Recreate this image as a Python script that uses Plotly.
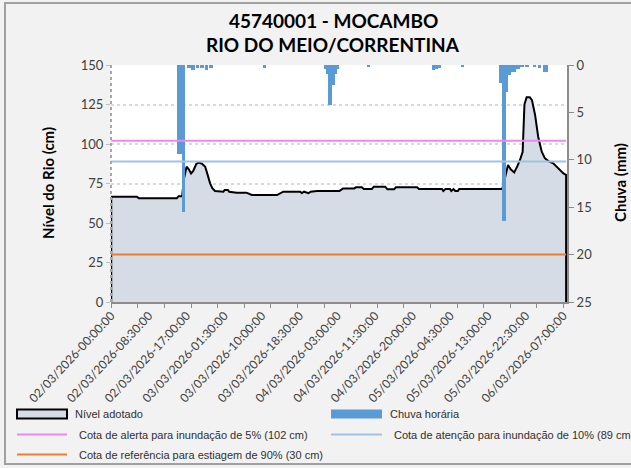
import plotly.graph_objects as go

# ---------------- data ----------------
title_lines = ["45740001 - MOCAMBO", "RIO DO MEIO/CORRENTINA"]
axis_titles = ["Nível do Rio (cm)", "Chuva (mm)"]

# hours since 02/03/2026 00:00 (category positions) and adopted river level (cm)
level_hours = [0, 5.8, 6.2, 14.8, 15.2, 16.0, 16.4, 17.0, 17.5, 18.0, 18.5, 19.2, 19.8, 20.5,
               21.2, 21.8, 22.3, 22.8, 23.4, 25.3, 25.6, 26.3, 26.6, 28.3, 30.5, 31.7, 37.4,
               38.8, 42.6, 43.0, 43.5, 44.5, 45.0, 46.4, 51.5, 52.3, 54.8, 55.2, 56.5, 57.0,
               58.8, 59.2, 61.8, 62.3, 63.8, 64.2, 69.0, 69.4, 74.6, 74.9, 75.4, 76.4, 76.7,
               77.2, 77.6, 78.2, 78.5, 88.2, 88.9, 89.5, 90.1, 90.9, 91.6, 92.2, 92.8, 93.2,
               93.7, 94.4, 94.9, 95.6, 96.3, 97.1, 97.8, 98.6, 99.7, 100.5, 101.2, 102.0, 102.6]
level_cm = [66.6, 66.6, 65.6, 65.6, 67.0, 67.0, 78.0, 85.6, 84.0, 81.4, 83.0, 87.5, 88.2, 87.5,
            85.6, 80.0, 75.1, 72.0, 70.3, 69.8, 70.9, 70.9, 69.8, 69.2, 69.2, 67.7, 67.7,
            69.8, 69.8, 68.9, 69.8, 68.9, 69.8, 70.3, 70.3, 71.9, 71.9, 72.6, 72.6, 71.5,
            71.5, 73.0, 73.0, 71.3, 71.3, 72.6, 72.6, 71.5, 71.5, 70.3, 71.5, 71.5, 70.3,
            71.5, 70.3, 70.3, 71.5, 71.5, 80.0, 86.7, 84.0, 82.0, 86.0, 89.9, 95.1, 125.0,
            129.6, 129.6, 127.8, 118.4, 104.6, 95.1, 91.0, 89.2, 87.8, 85.5, 83.5, 81.4, 80.5]

# hourly rain (mm)
rain_hours = [15.2, 15.7, 16.3, 17.5, 18.5, 19.5, 20.5, 21.5, 22.5, 34.6, 48.3, 48.9, 49.4, 50.0,
              50.5, 50.9, 58.0, 72.7, 73.4, 74.0, 79.2, 87.9, 88.55, 89.15, 89.7, 90.3, 90.8,
              91.4, 91.9, 92.6, 93.8, 95.5, 96.6, 97.7, 98.2]
rain_mm = [9.4, 9.4, 15.5, 0.3, 0.5, 0.3, 0.3, 0.5, 0.3, 0.3, 0.45, 1.0, 4.2, 2.1,
           1.0, 0.45, 0.25, 0.5, 0.4, 0.3, 0.25, 1.9, 16.5, 2.8, 1.05, 0.7, 0.7,
           0.45, 0.45, 0.25, 0.25, 0.2, 0.35, 0.7, 0.7]

tick_hours = [0, 8.5, 17, 25.5, 34, 42.5, 51, 59.5, 68, 76.5, 85, 93.5, 102]
tick_labels = ["02/03/2026-00:00:00", "02/03/2026-08:30:00", "02/03/2026-17:00:00",
               "03/03/2026-01:30:00", "03/03/2026-10:00:00", "03/03/2026-18:30:00",
               "04/03/2026-03:00:00", "04/03/2026-11:30:00", "04/03/2026-20:00:00",
               "05/03/2026-04:30:00", "05/03/2026-13:00:00", "05/03/2026-22:30:00",
               "06/03/2026-07:00:00"]

threshold_names = ["Cota de alerta para inundação de 5% (102 cm)",
                   "Cota de atenção para inundação de 10% (89 cm)",
                   "Cota de referência para estiagem de 90% (30 cm)"]
threshold_values = [102, 89, 30]
threshold_colors = ["#EE88EE", "#9DC3E6", "#ED7D31"]

series_names = ["Nível adotado", "Chuva horária"]

# ---------------- figure ----------------
W, H = 631, 468
L, R, T, B = 111, 64, 65, 166
PW, PH = W - L - R, H - T - B

def px(x):
    return (x - L) / PW

def py(y):
    return (H - B - y) / PH

AREA_FILL = "#D6DCE5"
RAIN_COLOR = "#5B9BD5"
FONT = "Lato"
x_end = 102.8

fig = go.Figure()

# area (level)
fig.add_trace(go.Scatter(
    x=[level_hours[0]] + level_hours + [level_hours[-1]],
    y=[0] + level_cm + [0],
    mode="lines", fill="tozeroy", fillcolor=AREA_FILL,
    line=dict(color="black", width=2), name=series_names[0],
    showlegend=False, hoverinfo="skip"))

# rain bars on secondary (reversed) axis
fig.add_trace(go.Bar(
    x=rain_hours, y=rain_mm, yaxis="y2", width=0.8,
    marker=dict(color=RAIN_COLOR, line=dict(width=0)),
    name=series_names[1], showlegend=False))

# thresholds on top layer
for name, val, col in zip(threshold_names, threshold_values, threshold_colors):
    fig.add_trace(go.Scatter(
        x=[level_hours[0], level_hours[-1]], y=[val, val], yaxis="y3",
        mode="lines", line=dict(color=col, width=2), name=name,
        showlegend=False, hoverinfo="skip"))

tick_font = dict(family=FONT, size=13, color="#404040")

fig.update_layout(
    width=W, height=H,
    margin=dict(l=L, r=R, t=T, b=B, autoexpand=False),
    paper_bgcolor="#F2F2F2", plot_bgcolor="white",
    showlegend=False, bargap=0,
    xaxis=dict(range=[-0.05, x_end], tickvals=tick_hours, ticktext=tick_labels,
               tickangle=-47, tickfont=dict(family=FONT, size=12, color="#404040"),
               showgrid=False, zeroline=False, showline=True, linecolor="#8C8C8C",
               linewidth=2, ticks="", automargin=False,
               minor=dict(ticks="outside", dtick=6, tick0=0, ticklen=4,
                          tickcolor="#8C8C8C", showgrid=False)),
    yaxis=dict(range=[0, 150], dtick=25, tickfont=tick_font, showgrid=True,
               gridcolor="#D9D9D9", griddash="dot", gridwidth=1.5, zeroline=False,
               ticks="outside", ticklen=4, tickcolor="#BFBFBF", automargin=False),
    yaxis2=dict(overlaying="y", side="right", range=[25, 0], dtick=5, tickfont=tick_font,
                showgrid=False, zeroline=False, showline=True, linecolor="#8C8C8C",
                linewidth=2, ticks="outside", ticklen=5, tickcolor="#8C8C8C",
                automargin=False),
    yaxis3=dict(overlaying="y", range=[0, 150], visible=False),
)

# axis titles
for txt, xpos in zip(axis_titles, [48, 620]):
    fig.add_annotation(text="<b>" + txt + "</b>", xref="paper", yref="paper",
                       x=px(xpos), y=py(183), textangle=-90, showarrow=False,
                       xanchor="center", yanchor="middle",
                       font=dict(family=FONT, size=15, color="black"))

# dotted left axis line
fig.add_shape(type="line", xref="paper", yref="paper", x0=0, x1=0, y0=0, y1=1,
              line=dict(color="#A6A6A6", width=2, dash="dot"))

# chart border
fig.add_shape(type="rect", xref="paper", yref="paper",
              x0=px(5), x1=px(660), y0=py(464), y1=py(3),
              line=dict(color="#A0A0A0", width=2), layer="below")

# title
for i, line_txt in enumerate(title_lines):
    fig.add_annotation(text="<b>" + line_txt + "</b>", xref="paper", yref="paper",
                       x=px(333), y=py(20 + i * 25), showarrow=False,
                       xanchor="center", yanchor="middle",
                       font=dict(family=FONT, size=19, color="black"))

# manual legend
leg_font = dict(family="Liberation Sans", size=11, color="#303030")
row_y = [414, 434.5, 454.5]
fig.add_shape(type="rect", xref="paper", yref="paper", x0=px(17), x1=px(67),
              y0=py(418.5), y1=py(409.5), fillcolor=AREA_FILL,
              line=dict(color="black", width=2))
fig.add_annotation(text=series_names[0], xref="paper", yref="paper", x=px(73), y=py(row_y[0]),
                   showarrow=False, xanchor="left", yanchor="middle", font=leg_font)
fig.add_shape(type="rect", xref="paper", yref="paper", x0=px(331), x1=px(382),
              y0=py(418.5), y1=py(409.5), fillcolor=RAIN_COLOR, line=dict(width=0))
fig.add_annotation(text=series_names[1], xref="paper", yref="paper", x=px(387.5), y=py(row_y[0]),
                   showarrow=False, xanchor="left", yanchor="middle", font=leg_font)
leg_pos = [(17, 67, 77, row_y[1]), (331, 382, 391.5, row_y[1]), (17, 67, 77, row_y[2])]
for (x0, x1, xt, yy), name, col in zip(leg_pos, threshold_names, threshold_colors):
    fig.add_shape(type="line", xref="paper", yref="paper", x0=px(x0), x1=px(x1),
                  y0=py(yy), y1=py(yy), line=dict(color=col, width=2))
    fig.add_annotation(text=name, xref="paper", yref="paper", x=px(xt), y=py(yy),
                       showarrow=False, xanchor="left", yanchor="middle", font=leg_font)

fig.write_html("out.html", config={"displayModeBar": False},
               post_script="document.body.style.margin='0';")
